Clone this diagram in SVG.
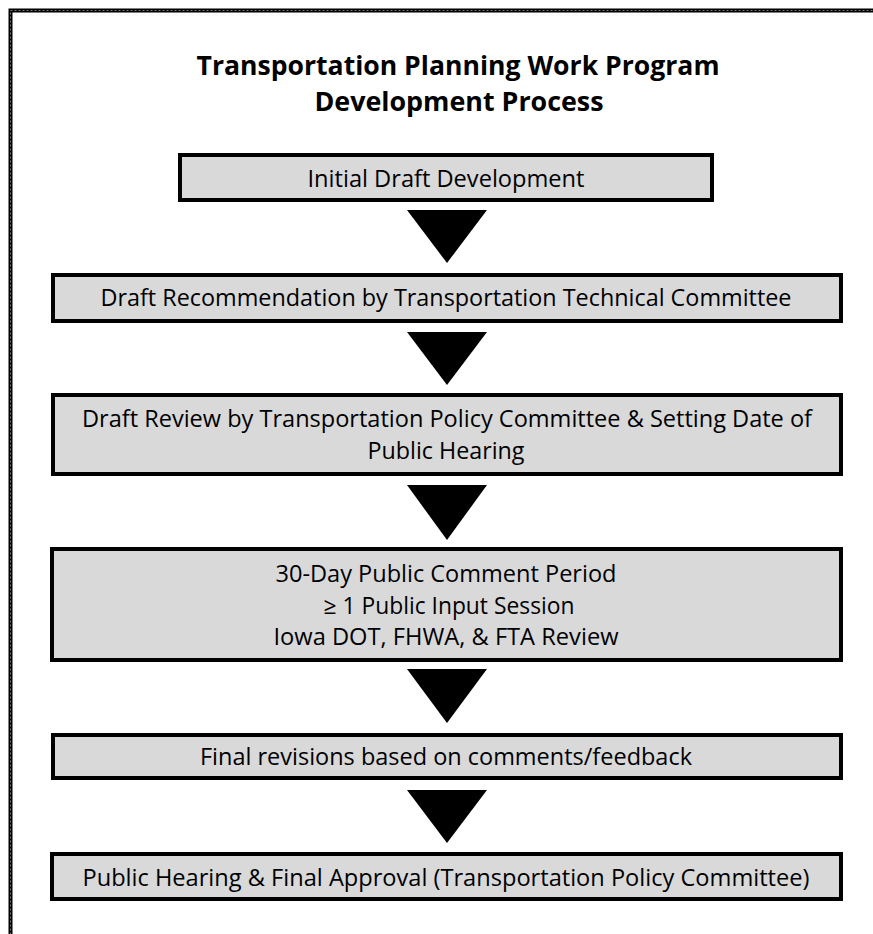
<svg xmlns="http://www.w3.org/2000/svg" width="873" height="934" viewBox="0 0 873 934">
<style>
.box{fill:#d9d9d9;stroke:#000;stroke-width:4}
.t{font-family:"Open Sans","Noto Sans","Liberation Sans",sans-serif;font-size:23px;fill:#000;text-anchor:middle}
.h{font-family:"Open Sans","Noto Sans","Liberation Sans",sans-serif;font-size:27px;font-weight:bold;fill:#000;text-anchor:middle}
.arr{fill:#000}
</style>
<rect width="873" height="934" fill="#fff"/>
<g id="frame">
<rect x="10.5" y="10.5" width="900" height="960" fill="none" stroke="#000" stroke-width="4"/>
<rect x="10.5" y="10.5" width="900" height="960" fill="none" stroke="#777" stroke-width="1" stroke-dasharray="2 2"/>
</g>
<g id="title">
<text class="h" x="458" y="75" textLength="523" lengthAdjust="spacingAndGlyphs">Transportation Planning Work Program</text>
<text class="h" x="459" y="111" textLength="289" lengthAdjust="spacingAndGlyphs">Development Process</text>
</g>
<g id="connectors">
<polygon class="arr" points="407,210 487,210 447,263"/>
<polygon class="arr" points="407,332 487,332 447,385"/>
<polygon class="arr" points="407,485 487,485 447,540"/>
<polygon class="arr" points="407,669 487,669 447,723"/>
<polygon class="arr" points="407,790 487,790 447,843"/>
</g>
<g id="n1">
<rect class="box" x="180" y="155" width="532" height="45"/>
<text class="t" x="446" y="187" textLength="277" lengthAdjust="spacingAndGlyphs">Initial Draft Development</text>
</g>
<g id="n2">
<rect class="box" x="53" y="275" width="788" height="46"/>
<text class="t" x="446" y="306" textLength="691" lengthAdjust="spacingAndGlyphs">Draft Recommendation by Transportation Technical Committee</text>
</g>
<g id="n3">
<rect class="box" x="53" y="395" width="788" height="79"/>
<text class="t" x="447" y="427" textLength="730" lengthAdjust="spacingAndGlyphs">Draft Review by Transportation Policy Committee &amp; Setting Date of</text>
<text class="t" x="446" y="459" textLength="157" lengthAdjust="spacingAndGlyphs">Public Hearing</text>
</g>
<g id="n4">
<rect class="box" x="52" y="549" width="789" height="111"/>
<text class="t" x="446" y="582" textLength="341" lengthAdjust="spacingAndGlyphs">30-Day Public Comment Period</text>
<text class="t" x="449" y="614" textLength="251" lengthAdjust="spacingAndGlyphs">≥ 1 Public Input Session</text>
<text class="t" x="446" y="645" textLength="345" lengthAdjust="spacingAndGlyphs">Iowa DOT, FHWA, &amp; FTA Review</text>
</g>
<g id="n5">
<rect class="box" x="53" y="735" width="788" height="43"/>
<text class="t" x="446" y="765" textLength="492" lengthAdjust="spacingAndGlyphs">Final revisions based on comments/feedback</text>
</g>
<g id="n6">
<rect class="box" x="52" y="854" width="789" height="45"/>
<text class="t" x="446" y="886" textLength="727" lengthAdjust="spacingAndGlyphs">Public Hearing &amp; Final Approval (Transportation Policy Committee)</text>
</g>
</svg>
